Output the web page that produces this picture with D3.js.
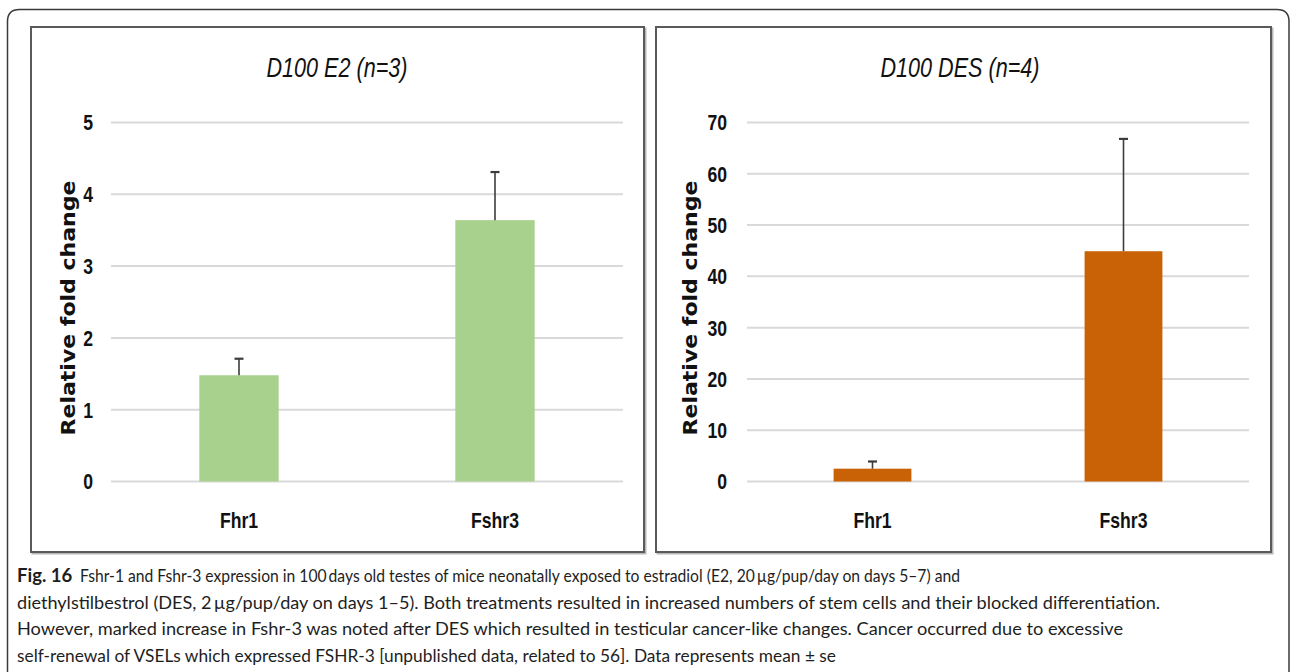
<!DOCTYPE html>
<html>
<head>
<meta charset="utf-8">
<script src="https://cdn.jsdelivr.net/npm/d3@7/dist/d3.min.js"></script>
<style>
  html, body { margin: 0; padding: 0; background: #fff; }
  svg { display: block; }
</style>
</head>
<body>
<svg id="fig" width="1290" height="672"></svg>
<script>
// Fold-change data (mean and upper standard error) for the two treatment groups
const categories = ["Fhr1", "Fshr3"];
const e2Values = [1.48, 3.64];
const e2Errors = [0.23, 0.67];
const e2Ticks = [0, 1, 2, 3, 4, 5];
const desValues = [2.5, 44.9];
const desErrors = [1.4, 21.9];
const desTicks = [0, 10, 20, 30, 40, 50, 60, 70];

const panels = [
  { title: "D100 E2 (n=3)", values: e2Values, errors: e2Errors, ticks: e2Ticks, max: 5,
    color: "#a9d18e", box: [31, 27, 613, 525], plot: [111, 623], labelRight: 93,
    yLabelX: 68, titleX: 337 },
  { title: "D100 DES (n=4)", values: desValues, errors: desErrors, ticks: desTicks, max: 70,
    color: "#c96206", box: [656, 27, 615, 525], plot: [747, 1249], labelRight: 727,
    yLabelX: 690, titleX: 960 }
];

const captionLines = [
  "Fshr-1 and Fshr-3 expression in 100\u2009days old testes of mice neonatally exposed to estradiol (E2, 20\u2009\u00b5g/pup/day on days 5\u20137) and",
  "diethylstilbestrol (DES, 2\u2009\u00b5g/pup/day on days 1\u20135). Both treatments resulted in increased numbers of stem cells and their blocked differentiation.",
  "However, marked increase in Fshr-3 was noted after DES which resulted in testicular cancer-like changes. Cancer occurred due to excessive",
  "self-renewal of VSELs which expressed FSHR-3 [unpublished data, related to 56]. Data represents mean \u00b1 se"
];
// Typeset line widths of the caption, in px
const captionWidths = [880, 1143, 1106, 819];

const svg = d3.select("#fig");
const chartFont = "'Liberation Sans', Arial, sans-serif";
const squeeze = 0.8;   // horizontal condensing for the chart lettering

// Place a condensed text label at (x, y)
function narrowText(parent, x, y, txt, opts) {
  const g = parent.append("g").attr("transform", `translate(${x},${y}) scale(${squeeze},1)`);
  const t = g.append("text")
    .attr("font-family", chartFont)
    .attr("font-size", opts.size)
    .attr("text-anchor", opts.anchor || "middle")
    .attr("fill", "#111")
    .text(txt);
  if (opts.bold) t.attr("font-weight", "bold");
  if (opts.italic) t.attr("font-style", "italic");
  if (opts.dy) t.attr("dy", opts.dy);
  return t;
}

// Outer rounded frame of the figure
svg.append("path")
  .attr("d", "M7.5,700 V21.5 Q7.5,9.5 19.5,9.5 H1277 Q1289,9.5 1289,21.5 V700")
  .attr("fill", "none").attr("stroke", "#3a3a3a").attr("stroke-width", 1.5);

const yTop = 122.5, yBottom = 481.5;

panels.forEach(p => {
  const g = svg.append("g");
  const [bx, by, bw, bh] = p.box;

  // Panel border with a soft shadow edge
  g.append("rect").attr("x", bx + 1.5).attr("y", by + 1.5).attr("width", bw).attr("height", bh)
    .attr("fill", "none").attr("stroke", "#b8b8b8").attr("stroke-width", 2);
  g.append("rect").attr("x", bx).attr("y", by).attr("width", bw).attr("height", bh)
    .attr("fill", "#fff").attr("stroke", "#5a5a5a").attr("stroke-width", 2);

  const x = d3.scaleBand().domain(categories).range(p.plot).paddingInner(0.69).paddingOuter(0.345);
  const y = d3.scaleLinear().domain([0, p.max]).range([yBottom, yTop]);

  // Horizontal gridlines
  g.append("g").selectAll("line").data(p.ticks).join("line")
    .attr("x1", p.plot[0]).attr("x2", p.plot[1])
    .attr("y1", d => y(d)).attr("y2", d => y(d))
    .attr("stroke", "#d9d9d9").attr("stroke-width", 2);

  // Tick labels
  p.ticks.forEach(d => narrowText(g, p.labelRight, y(d), d, { size: 22, bold: true, anchor: "end", dy: "0.36em" }));

  // Bars
  g.append("g").selectAll("rect").data(categories).join("rect")
    .attr("x", d => x(d)).attr("width", x.bandwidth())
    .attr("y", (d, i) => y(p.values[i]))
    .attr("height", (d, i) => y(0) - y(p.values[i]))
    .attr("fill", p.color);

  // Upper error bars
  const eb = g.append("g").attr("stroke", "#3c3c3c");
  categories.forEach((c, i) => {
    const cx = x(c) + x.bandwidth() / 2;
    eb.append("line").attr("x1", cx).attr("x2", cx)
      .attr("y1", y(p.values[i])).attr("y2", y(p.values[i] + p.errors[i]))
      .attr("stroke-width", 1.6);
    eb.append("line").attr("x1", cx - 4.5).attr("x2", cx + 4.5)
      .attr("y1", y(p.values[i] + p.errors[i])).attr("y2", y(p.values[i] + p.errors[i]))
      .attr("stroke-width", 2.2);
  });

  // Category labels
  categories.forEach(c => narrowText(g, x(c) + x.bandwidth() / 2, 528, c, { size: 22, bold: true }));

  // Chart title
  narrowText(g, p.titleX, 77, p.title, { size: 27, italic: true });

  // Y-axis label
  g.append("text")
    .attr("transform", `translate(${p.yLabelX},308) rotate(-90)`)
    .attr("text-anchor", "middle").attr("dy", "0.36em")
    .attr("font-family", "'DejaVu Sans', sans-serif").attr("font-weight", "bold")
    .attr("font-size", 19).attr("fill", "#111")
    .attr("textLength", 255).attr("lengthAdjust", "spacingAndGlyphs")
    .text("Relative fold change");
});

// Figure caption
const cap = svg.append("g").attr("font-family", "Lato, 'Open Sans', sans-serif")
  .attr("font-size", 17.5).attr("fill", "#1e1e1e");
cap.append("text").attr("x", 17).attr("y", 582)
  .attr("font-weight", "bold").attr("font-size", 18.5).text("Fig. 16");
captionLines.forEach((line, i) => {
  const x0 = i === 0 ? 80 : 17;
  cap.append("text").attr("x", x0).attr("y", 582 + i * 26.5)
    .attr("textLength", captionWidths[i]).attr("lengthAdjust", "spacingAndGlyphs")
    .text(line);
});
</script>
</body>
</html>
